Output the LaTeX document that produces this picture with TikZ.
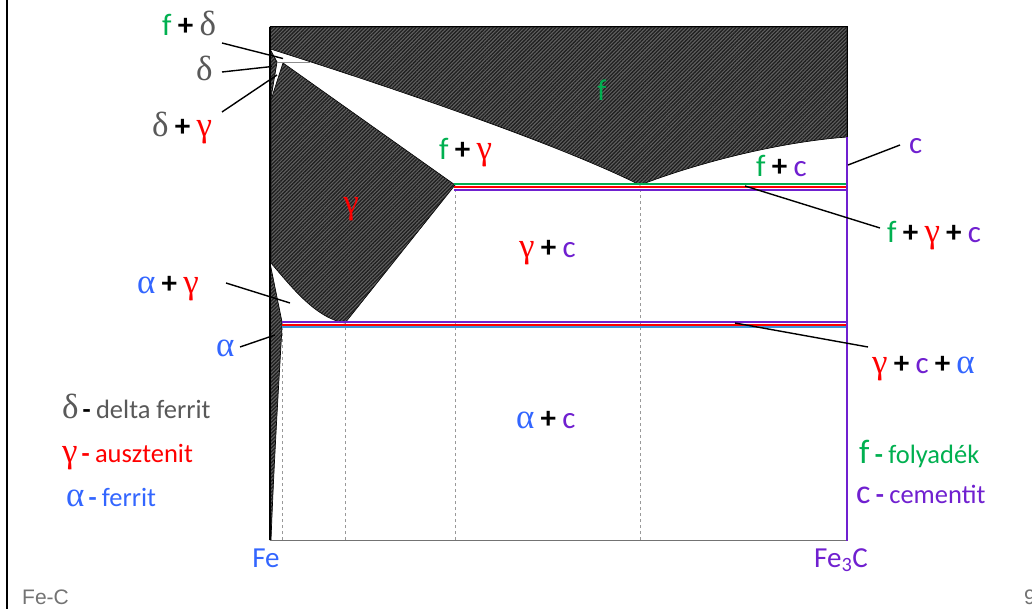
\documentclass[tikz,border=0pt]{standalone}
\usepackage{fontspec}
\setmainfont{Carlito}
\newfontfamily\grk{Liberation Serif}
\newfontfamily\arialf{Liberation Sans}
\usetikzlibrary{patterns.meta}
\definecolor{fgreen}{RGB}{0,176,80}
\definecolor{fred}{RGB}{255,0,0}
\definecolor{fblue}{RGB}{51,102,255}
\definecolor{fpurple}{RGB}{112,32,208}
\definecolor{fgray}{RGB}{89,89,89}
\definecolor{lblue}{RGB}{60,150,220}
\newcommand\xpl{\hspace{0.2em}\textbf{+}\hspace{0.2em}}
\newcommand\xgd{{\grk\fontsize{35}{35}\selectfont δ}}
\newcommand\xgg{{\grk\fontsize{35}{35}\selectfont γ}}
\newcommand\xga{{\grk\fontsize{35}{35}\selectfont α}}
\begin{document}
\begin{tikzpicture}[x=1pt,y=-1pt,
  hatch/.style={draw=black, line width=0.7pt, fill=black!62,
    postaction={pattern={Lines[angle=45,distance=2.6pt,line width=1.3pt]}, pattern color=black!88}},
  lab/.style={inner sep=0pt, anchor=base west, font=\fontsize{31}{31}\selectfont},
  leg/.style={inner sep=0pt, anchor=base west, font=\fontsize{26.5}{26.5}\selectfont},
  ptr/.style={draw=black, line width=1.4pt},
  vdash/.style={draw=black!40, line width=0.8pt, dash pattern=on 3pt off 3pt},
  elin/.style={line width=2pt}]
\useasboundingbox[fill=white] (0,0) rectangle (1032,609);
\draw[line width=2.5pt] (7,0) -- (7,609);
% dashed verticals
\draw[vdash] (282,540) -- (282,329);
\draw[vdash] (345,540) -- (345,323);
\draw[vdash] (455,540) -- (455,190);
\draw[vdash] (640,540) -- (640,190);
% liquid region
\path[hatch] (270,27) -- (847,27) -- (847,137) .. controls (780,142) and (700,162) .. (640,185)
  .. controls (560,145) and (400,90) .. (270.5,49) -- cycle;
% gamma region
\path[hatch] (283,63) -- (455,185) -- (345,323) .. controls (315,318) and (290,285) .. (271,263) -- (271,100) -- cycle;
% delta region
\path[hatch] (270,49) -- (277,62) -- (271,98) -- (270,98) -- cycle;
% alpha region
\path[hatch] (270,263) -- (282,322) -- (282,327) .. controls (279,380) and (274,460) .. (271,540) -- (270,540) -- cycle;
% peritectic line
\draw[black!45, line width=0.8pt] (277,62) -- (310,62);
% eutectic lines
\draw[elin, fgreen] (454,184) -- (847,184);
\draw[elin, fred] (454,186.9) -- (847,186.9);
\draw[elin, fpurple] (454,189.6) -- (847,189.6);
% eutectoid lines
\draw[elin, fpurple] (282,321.6) -- (847,321.6);
\draw[elin, fred] (282,324.5) -- (847,324.5);
\draw[elin, lblue] (282,327.4) -- (847,327.4);
% frame
\draw[black!55, line width=1pt] (270,540) -- (847,540);
\draw[line width=2pt] (270,27) -- (270,540);
\draw[line width=1pt] (270,27) -- (847,27) -- (847,137);
\draw[fpurple, line width=2.5pt] (847,137) -- (847,540.5);
% labels
\node[lab] (lfd) at (162,36) {\textcolor{fgreen}{f}\xpl\textcolor{fgray}{\xgd}};
\node[lab] (ld) at (196,81) {\textcolor{fgray}{\xgd}};
\node[lab] (ldg) at (152,137) {\textcolor{fgray}{\xgd}\xpl\textcolor{fred}{\xgg}};
\node[inner sep=0pt, anchor=base, font=\fontsize{30}{30}\selectfont, text=fgreen] (lf) at (602,101) {f};
\node[lab] (lfg) at (439,160) {\textcolor{fgreen}{f}\xpl\textcolor{fred}{\xgg}};
\node[inner sep=0pt, anchor=base, text=fred] (lg) at (351,214) {\xgg};
\node[lab] (lfc) at (756,177) {\textcolor{fgreen}{f}\xpl\textcolor{fpurple}{c}};
\node[lab] (lc) at (909,154) {\textcolor{fpurple}{c}};
\node[lab] (lfgc) at (887,243) {\textcolor{fgreen}{f}\xpl\textcolor{fred}{\xgg}\xpl\textcolor{fpurple}{c}};
\node[lab] (lgc) at (519,258) {\textcolor{fred}{\xgg}\xpl\textcolor{fpurple}{c}};
\node[lab] (lag) at (137,294) {\textcolor{fblue}{\xga}\xpl\textcolor{fred}{\xgg}};
\node[lab] (la) at (216,356) {\textcolor{fblue}{\xga}};
\node[lab] (lgca) at (872,373) {\textcolor{fred}{\xgg}\xpl\textcolor{fpurple}{c}\xpl\textcolor{fblue}{\xga}};
\node[lab] (lac) at (516,428) {\textcolor{fblue}{\xga}\xpl\textcolor{fpurple}{c}};
% legend
\node[leg] (g1) at (62,418) {\textcolor{fgray}{\xgd}\hspace{0.15em}\textbf{-}\hspace{0.2em}\textcolor{fgray}{delta ferrit}};
\node[leg] (g2) at (62,462) {\textcolor{fred}{\xgg\hspace{0.15em}\textbf{-}\hspace{0.2em}ausztenit}};
\node[leg] (g3) at (66,506) {\textcolor{fblue}{\xga\hspace{0.15em}\textbf{-}\hspace{0.2em}ferrit}};
\node[leg] (g4) at (859,463) {\textcolor{fgreen}{{\fontsize{34}{34}\selectfont f}\hspace{0.2em}\textbf{-}\hspace{0.2em}folyadék}};
\node[leg] (g5) at (856,503) {\textcolor{fpurple}{{\fontsize{34}{34}\selectfont c}\hspace{0.2em}\textbf{-}\hspace{0.2em}cementit}};
% axis labels
\node[inner sep=0pt, anchor=base, font=\fontsize{29}{29}\selectfont, text=fblue] (fe) at (266,567) {Fe};
\node[inner sep=0pt, anchor=base, font=\fontsize{29}{29}\selectfont, text=fpurple] (fe3c) at (841,567) {Fe\textsubscript{3}C};
\node[inner sep=0pt, anchor=base west, font=\arialf\fontsize{21}{21}\selectfont, text=black!55] (fec) at (22,604) {Fe-C};
\node[inner sep=0pt, anchor=base west, font=\arialf\fontsize{21}{21}\selectfont, text=black!55] (pg) at (1024,604) {9};
% pointers
\coordinate (p1a) at (222,43); \coordinate (p1b) at (283,58.5);
\coordinate (p2a) at (222,72); \coordinate (p2b) at (272,66.5);
\coordinate (p3a) at (222,112); \coordinate (p3b) at (277,75);
\coordinate (p4a) at (226,283); \coordinate (p4b) at (290,303);
\coordinate (p5a) at (240,347); \coordinate (p5b) at (275,335);
\coordinate (p6a) at (900,145); \coordinate (p6b) at (848,165);
\coordinate (p7a) at (880,228); \coordinate (p7b) at (745,186);
\coordinate (p8a) at (868,347); \coordinate (p8b) at (735,323);
\draw[ptr] (p1a) -- (p1b);
\draw[ptr] (p2a) -- (p2b);
\draw[ptr] (p3a) -- (p3b);
\draw[ptr] (p4a) -- (p4b);
\draw[ptr] (p5a) -- (p5b);
\draw[ptr] (p6a) -- (p6b);
\draw[ptr] (p7a) -- (p7b);
\draw[ptr] (p8a) -- (p8b);
\end{tikzpicture}
\end{document}
